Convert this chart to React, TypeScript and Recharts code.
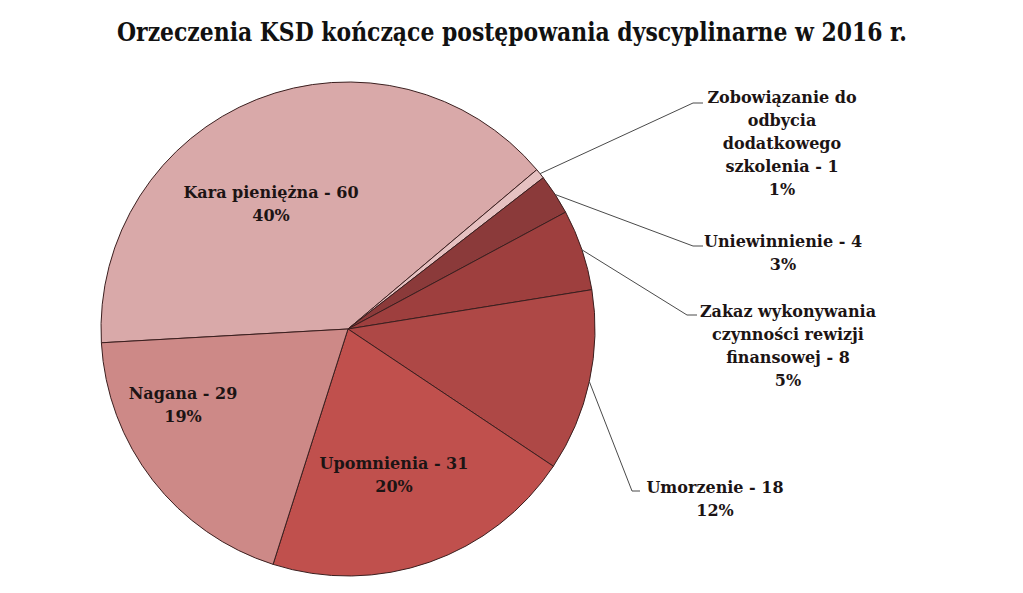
import React from 'react';
import { PieChart, Pie, Cell } from 'recharts';

const categories = [
  'Kara pieniężna',
  'Zobowiązanie do odbycia dodatkowego szkolenia',
  'Uniewinnienie',
  'Zakaz wykonywania czynności rewizji finansowej',
  'Umorzenie',
  'Upomnienia',
  'Nagana',
];
const values = [60, 1, 4, 8, 18, 31, 29];
const percentLabels = ['40%', '1%', '3%', '5%', '12%', '20%', '19%'];
const labelLines = [
  ['Kara pieniężna - 60'],
  ['Zobowiązanie do', 'odbycia', 'dodatkowego', 'szkolenia - 1'],
  ['Uniewinnienie - 4'],
  ['Zakaz wykonywania', 'czynności rewizji', 'finansowej - 8'],
  ['Umorzenie - 18'],
  ['Upomnienia - 31'],
  ['Nagana - 29'],
];
const colors = ['#D9A9A9', '#E6C1C1', '#8B3A3A', '#9E3F3E', '#AE4846', '#C0504D', '#CD8987'];

const data = categories.map((name, i) => ({ name, value: values[i] }));

// label layout relative to pie centre: text block centre (tx, ty); outside labels also elbow (ex, ey) and line end hx
const labelLayout: any[] = [
  { inside: true, tx: -77, ty: -125.5 },
  { inside: false, ex: 345, ey: -226, hx: 355, tx: 434, ty: -186 },
  { inside: false, ex: 345, ey: -83, hx: 355, tx: 435, ty: -76.5 },
  { inside: false, ex: 339, ey: -14, hx: 349, tx: 440, ty: 16.5 },
  { inside: false, ex: 284, ey: 162, hx: 292, tx: 367, ty: 169.5 },
  { inside: true, tx: 46, ty: 145.5 },
  { inside: true, tx: -165, ty: 75.5 },
];

const FONT = '"DejaVu Serif", "Liberation Serif", serif';
const TITLE_FONT = '"DejaVu Serif Condensed", "DejaVu Serif", "Liberation Serif", serif';
const LH = 23;
const RAD = Math.PI / 180;

const renderLabel = (props: any) => {
  const { cx, cy, midAngle, outerRadius, index } = props;
  const lay = labelLayout[index];
  const lines = [...labelLines[index], percentLabels[index]];
  const tcx = cx + lay.tx;
  const tcy = cy + lay.ty;
  const n = lines.length;
  const firstY = tcy - ((n - 1) * LH) / 2;
  const texts = lines.map((l, k) => (
    <text
      key={k}
      x={tcx}
      y={firstY + k * LH}
      textAnchor="middle"
      dominantBaseline="central"
      fontFamily={FONT}
      fontWeight="bold"
      fontSize={16}
      fill="#1c1414"
    >
      {l}
    </text>
  ));
  if (lay.inside) return <g>{texts}</g>;
  const sx = cx + outerRadius * Math.cos(-midAngle * RAD);
  const sy = cy + outerRadius * Math.sin(-midAngle * RAD);
  const ex = cx + lay.ex;
  const ey = cy + lay.ey;
  const hx = cx + lay.hx;
  return (
    <g>
      <polyline
        points={`${sx},${sy} ${ex},${ey} ${hx},${ey}`}
        fill="none"
        stroke="#4a4a4a"
        strokeWidth={1}
      />
      {texts}
    </g>
  );
};

export default function App() {
  return (
    <div style={{ position: 'absolute', left: 0, top: 0, width: 1023, height: 593, background: '#fff' }}>
      <div style={{ position: 'absolute', left: 0, top: 0 }}>
        <PieChart width={1023} height={593} margin={{ top: 0, right: 0, bottom: 0, left: 0 }}>
          <Pie
            data={data}
            dataKey="value"
            nameKey="name"
            cx={348}
            cy={329}
            outerRadius={247}
            startAngle={183.2}
            endAngle={-176.8}
            stroke="#3b1f1f"
            strokeWidth={1}
            isAnimationActive={false}
            label={renderLabel}
            labelLine={false}
          >
            {data.map((d, i) => (
              <Cell key={d.name} fill={colors[i]} />
            ))}
          </Pie>
        </PieChart>
      </div>
      <svg width={1023} height={593} style={{ position: 'absolute', left: 0, top: 0, pointerEvents: 'none' }}>
        <text
          x={512}
          y={41}
          textAnchor="middle"
          fontFamily={TITLE_FONT}
          fontWeight="bold"
          fontSize={26}
          style={{ fontStretch: 'condensed' }}
          fill="#111"
          textLength={790}
          lengthAdjust="spacingAndGlyphs"
        >
          Orzeczenia KSD kończące postępowania dyscyplinarne w 2016 r.
        </text>
      </svg>
    </div>
  );
}
